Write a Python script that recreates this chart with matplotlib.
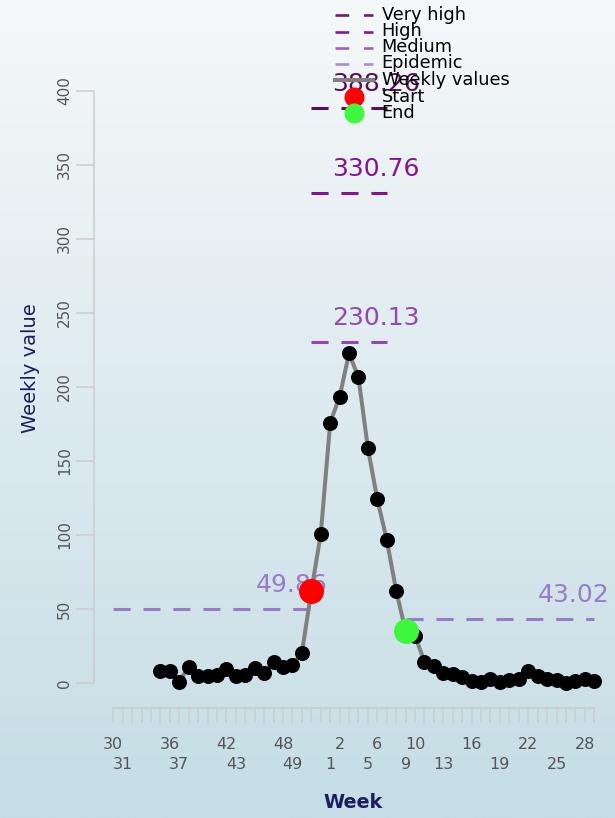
import numpy as np
import matplotlib
matplotlib.use("Agg")
import matplotlib.pyplot as plt

# ---- data -------------------------------------------------------------
weeks = [30, 31, 32, 33, 34, 35, 36, 37, 38, 39, 40, 41, 42, 43, 44, 45, 46,
         47, 48, 49, 50, 51, 52, 1, 2, 3, 4, 5, 6, 7, 8, 9, 10, 11, 12, 13,
         14, 15, 16, 17, 18, 19, 20, 21, 22, 23, 24, 25, 26, 27, 28, 29]

weekly_values = [np.nan, np.nan, np.nan, np.nan, np.nan,
                 8.3, 8.0, 1.0, 11.0, 4.7, 4.7, 5.5, 9.5, 4.7, 5.5, 10.0,
                 6.7, 14.4, 11.0, 12.0, 20.5, 62.0, 100.6, 175.8, 193.3,
                 222.6, 206.4, 158.5, 124.0, 96.6, 62.3, 35.0, 31.7, 14.4,
                 11.5, 6.5, 5.9, 3.8, 1.6, 1.0, 2.5, 1.0, 2.0, 2.5, 8.3, 4.7,
                 2.5, 2.0, 0.2, 1.5, 2.5, 1.6]

upper_row_weeks = [30, 36, 42, 48, 2, 6, 10, 16, 22, 28]
lower_row_weeks = [31, 37, 43, 49, 1, 5, 9, 13, 19, 25]

start_week = 51
end_week = 9
epidemic_threshold = 49.86
post_threshold = 43.02
intensity_names = ["Medium", "High", "Very high"]
intensity_values = [230.13, 330.76, 388.26]

# ---- style ------------------------------------------------------------
W, H = 615, 818
col_epi = "#9a7cc6"
col_int = {"Medium": "#9448ad", "High": "#86158a", "Very high": "#55105a"}
col_axis = "#cccccc"
col_tick_text = "#555555"
col_title = "#1c1c5e"
dash = (0, (5.6, 4.2))

fig = plt.figure(figsize=(W / 100, H / 100), dpi=100)

# vertical background gradient
bg = fig.add_axes([0, 0, 1, 1], zorder=0)
c_top = np.array([245, 248, 249]) / 255
c_bot = np.array([197, 221, 229]) / 255
t = np.linspace(0, 1, 256)[:, None]
grad = c_top * (1 - t) + c_bot * t
bg.imshow(grad[:, None, :], aspect="auto", extent=[0, 1, 0, 1],
          interpolation="bilinear")
bg.axis("off")

# main axes placed so that one week step and the value scale land where wanted
X0, DX, Y0, DY = 113.3, 9.43, 683.0, 1.481
xmin, xmax, ymin, ymax = -4.0, 53.5, -90.0, 455.0
left = (X0 + DX * xmin) / W
right = (X0 + DX * xmax) / W
bottom = 1 - (Y0 - DY * ymin) / H
top = 1 - (Y0 - DY * ymax) / H
ax = fig.add_axes([left, bottom, right - left, top - bottom], zorder=1)
ax.patch.set_alpha(0)
ax.set_xlim(xmin, xmax)
ax.set_ylim(ymin, ymax)

idx = np.arange(len(weeks))
vals = np.array(weekly_values, dtype=float)
i_start = weeks.index(start_week)
i_end = weeks.index(end_week)
i_peak = int(np.nanargmax(vals))
i_last = len(weeks) - 1

# thresholds
ax.plot([0, i_start], [epidemic_threshold] * 2, color=col_epi, lw=2.2,
        ls=dash, zorder=1.5)
ax.annotate(f"{epidemic_threshold:.2f}", xy=(i_start - 2.1, epidemic_threshold),
            xytext=(0, 17.3), textcoords="offset points", ha="center",
            va="center", fontsize=18, color=col_epi, zorder=1.5)
ax.plot([i_end, i_last], [post_threshold] * 2, color=col_epi, lw=2.2,
        ls=dash, zorder=1.5)
ax.annotate(f"{post_threshold:.2f}", xy=(i_last - 2.15, post_threshold),
            xytext=(0, 17.3), textcoords="offset points", ha="center",
            va="center", fontsize=18, color=col_epi, zorder=1.5)
for name, v in zip(intensity_names, intensity_values):
    ax.plot([i_peak - 4, i_peak + 4], [v, v], color=col_int[name], lw=2.2,
            ls=dash, zorder=1.5)
    ax.annotate(f"{v:.2f}", xy=(i_peak + 2.86, v), xytext=(0, 17.3),
                textcoords="offset points", ha="center", va="center",
                fontsize=18, color=col_int[name], zorder=1.5)

# weekly series
ax.plot(idx, vals, color="#808080", lw=2.9, zorder=2)
ax.plot(idx, vals, "o", color="black", ms=10.8, mec="none", zorder=3)
ax.plot(i_start, vals[i_start], "o", color="#ff0000", ms=18, mec="none",
        zorder=4)
ax.plot(i_end, vals[i_end], "o", color="#3df83d", ms=18, mec="none",
        zorder=4)

# axes
for s in ("top", "right"):
    ax.spines[s].set_visible(False)
ax.spines["left"].set_position(("data", -2.0))
ax.spines["left"].set_bounds(0, 400)
ax.spines["bottom"].set_position(("data", -16.9))
ax.spines["bottom"].set_bounds(0, i_last)
for s in ("left", "bottom"):
    ax.spines[s].set_color(col_axis)
    ax.spines[s].set_linewidth(1.1)

ax.set_yticks(np.arange(0, 401, 50))
ax.tick_params(axis="y", length=13, width=1.1, color=col_axis,
               labelcolor=col_tick_text, labelsize=11, pad=3,
               labelrotation=90)
for lab in ax.get_yticklabels():
    lab.set_va("center")

# week labels on two staggered rows: upper row on the major ticks,
# lower row on label-only minor ticks
ax.xaxis.remove_overlapping_locs = False
ax.set_xticks(idx)
ax.set_xticklabels([str(w) if w in upper_row_weeks else "" for w in weeks])
lower_idx = [weeks.index(w) for w in lower_row_weeks]
ax.set_xticks(lower_idx, minor=True)
ax.set_xticklabels([str(w) for w in lower_row_weeks], minor=True)
ax.tick_params(axis="x", which="major", length=10.8, width=1.1,
               color=col_axis, labelcolor=col_tick_text, labelsize=11.5,
               pad=10.2)
ax.tick_params(axis="x", which="minor", length=0, labelcolor=col_tick_text,
               labelsize=11.5, pad=35.3)

# overlay in pixel coordinates for titles and legend
ov = fig.add_axes([0, 0, 1, 1], zorder=3)
ov.set_xlim(0, W)
ov.set_ylim(H, 0)
ov.axis("off")

ov.text(353.5, 803, "Week", ha="center", va="center", fontsize=13.8,
        fontweight="bold", color=col_title)
ov.text(30, 368, "Weekly value", ha="center", va="center", rotation=90,
        fontsize=14, color=col_title)

leg_rows = [("Very high", 15), ("High", 31.5), ("Medium", 47.5),
            ("Epidemic", 63.5), ("Weekly values", 80), ("Start", 97),
            ("End", 113)]
leg_cols = {"Very high": "#6a1f6a", "High": "#8b1a8b", "Medium": "#a060b5",
            "Epidemic": "#a890d0"}
for name, y in leg_rows:
    if name in leg_cols:
        ov.plot([335, 373], [y, y], color=leg_cols[name], lw=1.9,
                ls=(0, (5.2, 5.6)))
    elif name == "Weekly values":
        ov.plot([335, 373], [y, y], color="#808080", lw=2.9)
    elif name == "Start":
        ov.plot(354.3, y, "o", color="#ff0000", ms=14.4, mec="none")
    else:
        ov.plot(354.3, y, "o", color="#3df83d", ms=14.4, mec="none")
    ov.text(381.7, y, name, ha="left", va="center", fontsize=12.8,
            color="black")

fig.savefig("out.png", dpi=100)
